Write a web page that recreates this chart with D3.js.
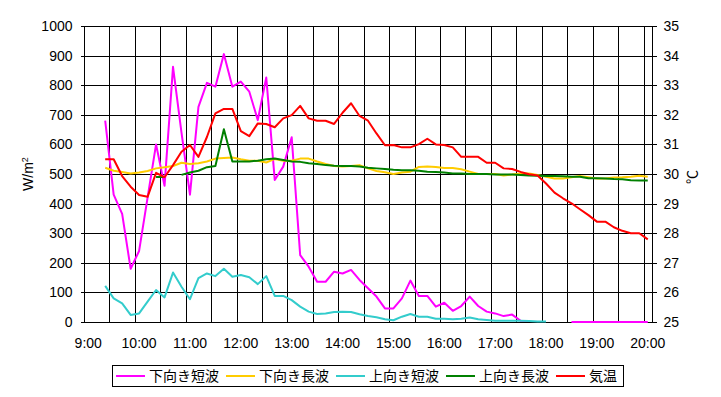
<!DOCTYPE html>
<html>
<head>
<meta charset="utf-8">
<script src="https://cdn.jsdelivr.net/npm/d3@7"></script>
<style>
  body { margin: 0; background: #fff; }
  text { font-family: "Liberation Sans", Arial, "Noto Sans CJK JP", sans-serif; }
</style>
</head>
<body>
<div id="chart"></div>
<script>
// measurement times (10 minute steps)
const times = ["9:20","9:30","9:40","9:50","10:00","10:10","10:20","10:30","10:40","10:50",
  "11:00","11:10","11:20","11:30","11:40","11:50","12:00","12:10","12:20","12:30",
  "12:40","12:50","13:00","13:10","13:20","13:30","13:40","13:50","14:00","14:10",
  "14:20","14:30","14:40","14:50","15:00","15:10","15:20","15:30","15:40","15:50",
  "16:00","16:10","16:20","16:30","16:40","16:50","17:00","17:10","17:20","17:30",
  "17:40","17:50","18:00","18:10","18:20","18:30","18:40","18:50","19:00","19:10",
  "19:20","19:30","19:40","19:50","20:00"];

// W/m2
const downShort = [680,430,365,180,240,420,600,460,862,640,
  430,727,808,795,905,795,812,778,682,826,
  480,525,624,226,187,136,136,170,164,176,
  142,114,86,46,46,80,140,88,88,52,
  65,38,54,86,54,35,29,20,25,4,
  3,null,null,null,null,0,0,0,0,0,
  0,0,0,0,0];
const downLong = [521,511,507,502,505,510,519,523,527,538,
  534,536,542,552,554,556,550,545,545,539,
  551,545,545,552,552,542,534,527,525,527,
  530,519,510,506,500,505,508,524,525,524,
  520,520,516,508,500,500,500,495,498,502,
  502,497,491,485,485,489,493,489,485,485,
  488,489,491,494,491];
const upShort = [122,80,63,24,29,69,108,83,167,119,
  77,148,164,155,180,153,159,151,128,155,
  88,88,74,52,35,27,29,34,35,34,
  26,20,16,9,6,18,27,18,18,11,
  11,9,11,15,9,7,4,4,4,4,
  3,2,2,null,null,null,null,null,null,null,
  null,null,null,null,null];
const upLong = [null,null,null,null,null,null,490,490,null,497,
  505,511,523,527,651,542,542,542,545,550,
  552,547,542,541,536,534,530,528,527,527,
  525,521,519,517,514,513,513,511,508,507,
  505,502,502,500,500,500,498,498,498,497,
  495,494,493,493,492,491,491,486,486,485,
  483,482,479,478,478];
// deg C
const temp = [30.50,30.50,29.93,29.57,29.29,29.23,30.04,29.89,30.30,30.75,
  30.98,30.58,31.25,32.05,32.20,32.20,31.45,31.28,31.71,31.69,
  31.58,31.88,31.99,32.30,31.88,31.80,31.80,31.69,32.07,32.39,
  31.96,31.80,31.37,30.97,30.98,30.90,30.90,31.01,31.19,31.00,
  30.98,30.90,30.58,30.58,30.58,30.38,30.38,30.19,30.17,30.07,
  29.99,29.95,29.68,29.37,29.18,29.01,28.81,28.61,28.39,28.39,
  28.20,28.08,28.00,28.00,27.79];

const hourLabels = ["9:00","10:00","11:00","12:00","13:00","14:00","15:00","16:00","17:00","18:00","19:00","20:00"];
const leftTicks = [0,100,200,300,400,500,600,700,800,900,1000];
const rightTicks = [25,26,27,28,29,30,31,32,33,34,35];

const series = [
  {name: "下向き短波", values: downShort, color: "#ff00ff", axis: "L"},
  {name: "下向き長波", values: downLong, color: "#ffcc00", axis: "L"},
  {name: "上向き短波", values: upShort, color: "#33cccc", axis: "L"},
  {name: "上向き長波", values: upLong, color: "#008000", axis: "L"},
  {name: "気温", values: temp, color: "#ff0000", axis: "R"}
];

const W = 721, H = 397;
const pLeft = 84, pRight = 652, pTop = 26, pBottom = 322;

const svg = d3.select("#chart").append("svg")
  .attr("width", W).attr("height", H);

// minutes since midnight; each 10-min category is drawn at its centre
const toMin = s => { const p = s.split(":"); return +p[0]*60 + +p[1]; };
const x = d3.scaleLinear().domain([540, 1210]).range([pLeft, pRight]);
const yL = d3.scaleLinear().domain([0, 1000]).range([pBottom, pTop]);
const yR = d3.scaleLinear().domain([25, 35]).range([pBottom, pTop]);

// grid
const grid = svg.append("g").attr("stroke", "#000").attr("stroke-width", 1).attr("shape-rendering", "crispEdges");
grid.selectAll("line.h").data(leftTicks).join("line")
  .attr("x1", pLeft).attr("x2", pRight)
  .attr("y1", d => Math.round(yL(d)) + 0.5).attr("y2", d => Math.round(yL(d)) + 0.5);
grid.selectAll("line.v").data(d3.range(570, 1201, 30)).join("line")
  .attr("y1", pTop).attr("y2", pBottom)
  .attr("x1", d => Math.round(x(d)) + 0.5).attr("x2", d => Math.round(x(d)) + 0.5);
svg.append("rect")
  .attr("x", pLeft + 0.5).attr("y", pTop + 0.5)
  .attr("width", pRight - pLeft).attr("height", pBottom - pTop)
  .attr("fill", "none").attr("stroke", "#000").attr("shape-rendering", "crispEdges");

// axes
const axL = svg.append("g").attr("transform", `translate(${pLeft + 0.5},0)`)
  .call(d3.axisLeft(yL).tickValues(leftTicks).tickFormat(d3.format("d")).tickSize(4).tickSizeOuter(0).tickPadding(8));
const axR = svg.append("g").attr("transform", `translate(${pRight + 0.5},0)`)
  .call(d3.axisRight(yR).tickValues(rightTicks).tickFormat(d3.format("d")).tickSize(4).tickSizeOuter(0).tickPadding(7));
[axL, axR].forEach(a => {
  a.select(".domain").remove();
  a.selectAll("text").style("font-size", "14px").attr("fill", "#000");
  a.selectAll("line").attr("shape-rendering", "crispEdges");
});

svg.append("g").selectAll("text").data(hourLabels).join("text")
  .attr("x", d => x(toMin(d) + 5))
  .attr("y", 348)
  .attr("text-anchor", "middle")
  .style("font-size", "14px")
  .text(d => d);

// axis titles
svg.append("text")
  .attr("transform", "translate(33,174) rotate(-90)")
  .attr("text-anchor", "middle")
  .style("font-size", "14px")
  .html('W/m<tspan dy="-5" font-size="9px">2</tspan>');
svg.append("text")
  .attr("transform", "translate(692,177) rotate(-90)")
  .attr("text-anchor", "middle")
  .attr("dominant-baseline", "central")
  .style("font-size", "14px")
  .text("℃");

// lines
series.forEach(s => {
  const yS = s.axis === "L" ? yL : yR;
  const line = d3.line()
    .defined(d => d != null)
    .x((d, i) => x(toMin(times[i]) + 5))
    .y(d => yS(d));
  svg.append("path")
    .datum(s.values)
    .attr("fill", "none")
    .attr("stroke", s.color)
    .attr("stroke-width", 2)
    .attr("stroke-linejoin", "round")
    .attr("d", line);
});

// legend
svg.append("rect")
  .attr("x", 112.5).attr("y", 365.5).attr("width", 511).attr("height", 21)
  .attr("fill", "#fff").attr("stroke", "#000").attr("shape-rendering", "crispEdges");
const leg = svg.append("g").selectAll("g").data(series).join("g")
  .attr("transform", (d, i) => `translate(${116 + i * 110},376)`);
leg.append("line")
  .attr("x1", 0).attr("x2", 29)
  .attr("stroke", d => d.color).attr("stroke-width", 2);
leg.append("text")
  .attr("x", 33).attr("y", 5)
  .style("font-family", '"Noto Sans CJK JP", sans-serif')
  .style("font-size", "14px")
  .text(d => d.name);
</script>
</body>
</html>
